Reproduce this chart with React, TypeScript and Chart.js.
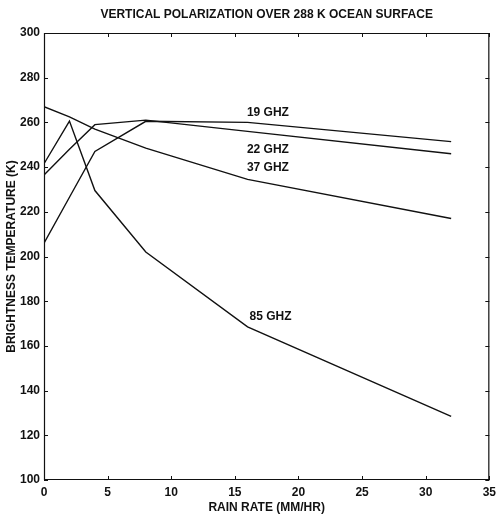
import React, { useEffect, useRef } from 'react';
import { Chart, registerables } from 'chart.js';

Chart.register(...registerables);

const rainRate = [0, 2, 4, 8, 16, 32];
const tb19 = [206, 226.5, 247, 260.5, 260, 251.4];
const tb22 = [236.5, 248, 259, 261, 256, 246];
const tb37 = [267, 262.5, 257, 248.5, 234.5, 217];
const tb85 = [241.5, 260.6, 229.5, 202, 168.5, 128.5];

const seriesNames = ['19 GHZ', '22 GHZ', '37 GHZ', '85 GHZ'];
const labelX = [17.6, 17.6, 17.6, 17.8];
const labelY = [264.2, 247.7, 239.6, 173];

const xTicks = [0, 5, 10, 15, 20, 25, 30, 35];
const yTicks = [100, 120, 140, 160, 180, 200, 220, 240, 260, 280, 300];

const chartTitle = 'VERTICAL POLARIZATION OVER 288 K OCEAN SURFACE';

const FONT = "'Liberation Sans Narrow', 'Arial Narrow', 'Liberation Sans', Arial, sans-serif";
const INK = '#111';

const decorPlugin = {
  id: 'decor',
  afterDraw(chart: any) {
    const { ctx, chartArea: a, scales } = chart;
    const xs = scales.x;
    const ys = scales.y;
    ctx.save();
    ctx.strokeStyle = INK;
    ctx.lineWidth = 1.2;
    ctx.beginPath();
    ctx.rect(a.left + 0.5, a.top + 0.5, a.right - a.left - 1, a.bottom - a.top - 1);
    ctx.stroke();
    const L = 4;
    ctx.lineWidth = 1;
    ctx.beginPath();
    xTicks.forEach((v) => {
      const px = Math.round(xs.getPixelForValue(v)) + 0.5;
      ctx.moveTo(px, a.bottom);
      ctx.lineTo(px, a.bottom - L);
      ctx.moveTo(px, a.top);
      ctx.lineTo(px, a.top + L);
    });
    yTicks.forEach((v) => {
      const py = Math.round(ys.getPixelForValue(v)) + 0.5;
      ctx.moveTo(a.left, py);
      ctx.lineTo(a.left + L, py);
      ctx.moveTo(a.right, py);
      ctx.lineTo(a.right - L, py);
    });
    ctx.stroke();
    ctx.fillStyle = INK;
    ctx.font = `bold 12px ${FONT}`;
    ctx.textAlign = 'center';
    ctx.textBaseline = 'middle';
    ctx.fillText(chartTitle, (a.left + a.right) / 2, 15);
    seriesNames.forEach((n, i) => {
      ctx.fillText(n, xs.getPixelForValue(labelX[i]), ys.getPixelForValue(labelY[i]));
    });
    ctx.restore();
  },
};

export default function App() {
  const ref = useRef<HTMLCanvasElement | null>(null);
  useEffect(() => {
    document.body.style.margin = '0';
    const mk = (d: number[]) => rainRate.map((x, i) => ({ x, y: d[i] }));
    const ds = [tb19, tb22, tb37, tb85].map((d, i) => ({
      label: seriesNames[i],
      data: mk(d),
      showLine: true,
      borderColor: INK,
      borderWidth: 1.4,
      pointRadius: 0,
      fill: false,
      tension: 0,
    }));
    const tickFont = { family: FONT, size: 12, weight: 'bold' };
    const chart = new Chart(ref.current as HTMLCanvasElement, {
      type: 'scatter',
      data: { datasets: ds },
      options: {
        responsive: false,
        animation: false,
        layout: { padding: { left: 0, right: 11, top: 33, bottom: 0 } },
        plugins: {
          legend: { display: false },
          tooltip: { enabled: false },
          title: { display: false },
        },
        scales: {
          x: {
            type: 'linear',
            min: 0,
            max: 35,
            afterBuildTicks: (s: any) => {
              s.ticks = xTicks.map((v) => ({ value: v }));
            },
            afterFit: (s: any) => {
              s.height = 39;
            },
            grid: { display: false, drawTicks: false },
            border: { display: false },
            ticks: { color: INK, font: tickFont, padding: 5, maxRotation: 0 },
            title: {
              display: true,
              text: 'RAIN RATE (MM/HR)',
              color: INK,
              font: tickFont,
              padding: { top: 0, bottom: 4 },
            },
          },
          y: {
            type: 'linear',
            min: 100,
            max: 300,
            afterBuildTicks: (s: any) => {
              s.ticks = yTicks.map((v) => ({ value: v }));
            },
            afterFit: (s: any) => {
              s.width = 44;
            },
            grid: { display: false, drawTicks: false },
            border: { display: false },
            ticks: { color: INK, font: tickFont, padding: 4 },
            title: {
              display: true,
              text: 'BRIGHTNESS TEMPERATURE (K)',
              color: INK,
              font: tickFont,
              padding: { top: 4, bottom: 0 },
            },
          },
        },
      },
      plugins: [decorPlugin],
    } as any);
    return () => chart.destroy();
  }, []);
  return <canvas ref={ref} width={501} height={519} style={{ display: 'block' }} />;
}
